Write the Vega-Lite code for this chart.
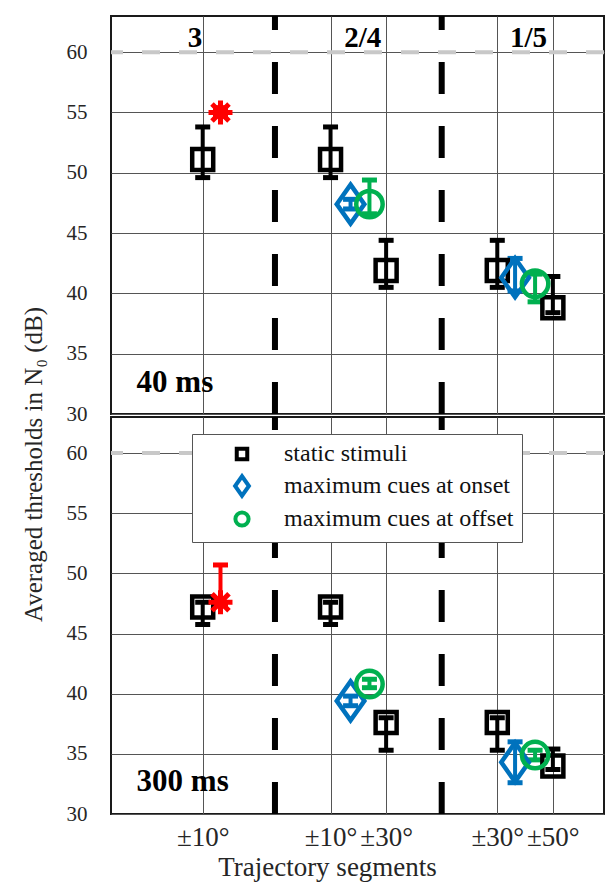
{
  "$schema": "https://vega.github.io/schema/vega-lite/v6.json",
  "background": "white",
  "padding": {"left": 20, "top": 12, "right": 4, "bottom": 2},
  "spacing": 3,
  "bounds": "flush",
  "datasets": {
    "points": [
      {"panel": "40 ms", "series": "static stimuli", "x": 2, "y": 51.1, "lo": 49.6, "hi": 53.8},
      {"panel": "40 ms", "series": "binaural", "x": 2.32, "y": 55.0, "lo": 54.7, "hi": 55.4},
      {"panel": "40 ms", "series": "static stimuli", "x": 4.3, "y": 51.1, "lo": 49.6, "hi": 53.8},
      {"panel": "40 ms", "series": "maximum cues at onset", "x": 4.66, "y": 47.4, "lo": 47.0, "hi": 47.8},
      {"panel": "40 ms", "series": "maximum cues at offset", "x": 5.0, "y": 47.4, "lo": 46.6, "hi": 49.4},
      {"panel": "40 ms", "series": "static stimuli", "x": 5.3, "y": 41.9, "lo": 40.5, "hi": 44.4},
      {"panel": "40 ms", "series": "static stimuli", "x": 7.3, "y": 41.9, "lo": 40.5, "hi": 44.4},
      {"panel": "40 ms", "series": "maximum cues at onset", "x": 7.62, "y": 41.3, "lo": 40.2, "hi": 42.9},
      {"panel": "40 ms", "series": "maximum cues at offset", "x": 7.98, "y": 40.8, "lo": 39.3, "hi": 41.6},
      {"panel": "40 ms", "series": "static stimuli", "x": 8.3, "y": 38.8, "lo": 38.4, "hi": 41.4},
      {"panel": "300 ms", "series": "static stimuli", "x": 2, "y": 47.2, "lo": 45.75, "hi": 47.6},
      {"panel": "300 ms", "series": "binaural", "x": 2.32, "y": 47.6, "lo": 47.3, "hi": 50.7},
      {"panel": "300 ms", "series": "static stimuli", "x": 4.3, "y": 47.2, "lo": 45.75, "hi": 47.6},
      {"panel": "300 ms", "series": "maximum cues at onset", "x": 4.66, "y": 39.4, "lo": 39.0, "hi": 39.8},
      {"panel": "300 ms", "series": "maximum cues at offset", "x": 5.0, "y": 40.8, "lo": 40.5, "hi": 41.2},
      {"panel": "300 ms", "series": "static stimuli", "x": 5.3, "y": 37.6, "lo": 35.3, "hi": 38.0},
      {"panel": "300 ms", "series": "static stimuli", "x": 7.3, "y": 37.6, "lo": 35.3, "hi": 38.0},
      {"panel": "300 ms", "series": "maximum cues at onset", "x": 7.62, "y": 34.3, "lo": 32.6, "hi": 36.0},
      {"panel": "300 ms", "series": "maximum cues at offset", "x": 7.98, "y": 34.9, "lo": 34.5, "hi": 35.3},
      {"panel": "300 ms", "series": "static stimuli", "x": 8.3, "y": 34.0, "lo": 33.7, "hi": 35.4}
    ],
    "labels": [
      {"panel": "40 ms", "kind": "segment", "x": 1.86, "y": 61.2, "text": "3"},
      {"panel": "40 ms", "kind": "segment", "x": 4.88, "y": 61.2, "text": "2/4"},
      {"panel": "40 ms", "kind": "segment", "x": 7.86, "y": 61.2, "text": "1/5"},
      {"panel": "40 ms", "kind": "duration", "x": 0.81, "y": 32.6, "text": "40 ms"},
      {"panel": "300 ms", "kind": "duration", "x": 0.81, "y": 32.7, "text": "300 ms"}
    ],
    "dividers": [{"x": 3.3}, {"x": 6.3}],
    "reference": [{"level": 60}]
  },
  "config": {
    "font": "Liberation Serif",
    "style": {
      "guide-label": {"font": "Liberation Serif"},
      "guide-title": {"font": "Liberation Serif"}
    },
    "view": {"stroke": "#1a1a1a", "strokeWidth": 2},
    "axis": {
      "labelFont": "Liberation Serif", "titleFont": "Liberation Serif",
      "labelColor": "#262626", "titleColor": "#262626", "titleFontWeight": "normal",
      "gridColor": "#555555", "gridWidth": 1, "gridOpacity": 1,
      "domain": false, "ticks": false, "tickSize": 0
    },
    "legend": {
      "orient": "none", "legendX": 81, "legendY": 418,
      "fillColor": "white", "strokeColor": "#555555", "strokeWidth": 1,
      "padding": 8, "symbolOffset": 30, "labelOffset": 30,
      "labelFont": "Liberation Serif", "labelFontSize": 24, "labelColor": "#111111", "labelLimit": 400,
      "symbolStrokeWidth": 4, "rowPadding": 0, "title": null
    }
  },
  "vconcat": [
    {
      "width": 493, "height": 398,
      "data": {"name": "points"},
      "transform": [{"filter": "datum.panel == '40 ms'"}],
      "layer": [
        {
          "data": {"name": "reference"},
          "mark": {"type": "rule", "color": "#c8c8c8", "strokeWidth": 4, "strokeDash": [18, 19]},
          "encoding": {"y": {"field": "level", "type": "quantitative"}}
        },
        {
          "data": {"name": "dividers"},
          "mark": {"type": "rule", "color": "black", "strokeWidth": 6, "strokeDash": [32, 32]},
          "encoding": {
            "x": {"field": "x", "type": "quantitative"},
            "y": {"datum": 30, "type": "quantitative"},
            "y2": {"datum": 63}
          }
        },
        {
          "mark": {"type": "rule", "strokeWidth": 4},
          "encoding": {
            "x": {"field": "x", "type": "quantitative"},
            "y": {"field": "lo", "type": "quantitative"},
            "y2": {"field": "hi"},
            "stroke": {"field": "series", "type": "nominal", "legend": null,
              "scale": {"domain": ["static stimuli", "maximum cues at onset", "maximum cues at offset", "binaural"], "range": ["#000000", "#0072BD", "#00B050", "#FF0000"]}}
          }
        },
        {
          "mark": {"type": "tick", "orient": "horizontal", "size": 15, "thickness": 5, "opacity": 1},
          "encoding": {
            "x": {"field": "x", "type": "quantitative"},
            "y": {"field": "lo", "type": "quantitative"},
            "fill": {"field": "series", "type": "nominal", "legend": null,
              "scale": {"domain": ["static stimuli", "maximum cues at onset", "maximum cues at offset", "binaural"], "range": ["#000000", "#0072BD", "#00B050", "#FF0000"]}}
          }
        },
        {
          "mark": {"type": "tick", "orient": "horizontal", "size": 15, "thickness": 5, "opacity": 1},
          "encoding": {
            "x": {"field": "x", "type": "quantitative"},
            "y": {"field": "hi", "type": "quantitative"},
            "fill": {"field": "series", "type": "nominal", "legend": null}
          }
        },
        {
          "transform": [{"filter": "datum.series == 'static stimuli'"}],
          "mark": {"type": "point", "filled": false, "strokeWidth": 4.5, "size": 400, "opacity": 1, "color": "#000000", "shape": "M-1.05,-1.05L1.05,-1.05L1.05,1.05L-1.05,1.05Z"},
          "encoding": {
            "x": {"field": "x", "type": "quantitative",
              "scale": {"domain": [0.35, 9.22], "nice": false, "zero": false},
              "axis": {"values": [2, 4.3, 5.3, 7.3, 8.3], "grid": true, "labels": false, "title": null}},
            "y": {"field": "y", "type": "quantitative",
              "scale": {"domain": [30, 63], "nice": false, "zero": false},
              "axis": {"values": [30, 35, 40, 45, 50, 55, 60], "grid": true, "labelFont": "Liberation Serif", "labelFontSize": 21, "labelPadding": 24,
                "title": "Averaged thresholds in N₀ (dB)", "titleFont": "Liberation Serif", "titleFontSize": 25, "titleX": -78, "titleY": 448, "titleBaseline": "middle", "titleAlign": "center"}}
          }
        },
        {
          "transform": [{"filter": "datum.series == 'maximum cues at onset'"}],
          "mark": {"type": "point", "filled": false, "strokeWidth": 4.5, "size": 400, "opacity": 1, "color": "#0072BD", "shape": "M0,-1.95L1.38,0L0,1.95L-1.38,0Z"},
          "encoding": {"x": {"field": "x", "type": "quantitative"}, "y": {"field": "y", "type": "quantitative"}}
        },
        {
          "transform": [{"filter": "datum.series == 'maximum cues at offset'"}],
          "mark": {"type": "point", "filled": false, "strokeWidth": 4.5, "size": 400, "opacity": 1, "color": "#00B050", "shape": "M-1.32,0A1.32,1.32 0 1,0 1.32,0A1.32,1.32 0 1,0 -1.32,0Z"},
          "encoding": {"x": {"field": "x", "type": "quantitative"}, "y": {"field": "y", "type": "quantitative"}}
        },
        {
          "transform": [{"filter": "datum.series == 'binaural'"}],
          "mark": {"type": "point", "filled": false, "strokeWidth": 5, "size": 400, "opacity": 1, "color": "#FF0000", "shape": "M0,-1.2L0,1.2M-1.2,0L1.2,0M-0.85,-0.85L0.85,0.85M-0.85,0.85L0.85,-0.85"},
          "encoding": {"x": {"field": "x", "type": "quantitative"}, "y": {"field": "y", "type": "quantitative"}}
        },
        {
          "data": {"name": "labels"},
          "transform": [{"filter": "datum.panel == '40 ms' && datum.kind == 'segment'"}],
          "mark": {"type": "text", "font": "Liberation Serif", "fontWeight": "bold", "fontSize": 29, "baseline": "middle", "align": "center", "color": "black"},
          "encoding": {
            "x": {"field": "x", "type": "quantitative"},
            "y": {"field": "y", "type": "quantitative"},
            "text": {"field": "text"}
          }
        },
        {
          "data": {"name": "labels"},
          "transform": [{"filter": "datum.panel == '40 ms' && datum.kind == 'duration'"}],
          "mark": {"type": "text", "font": "Liberation Serif", "fontWeight": "bold", "fontSize": 31, "baseline": "middle", "align": "left", "color": "black"},
          "encoding": {
            "x": {"field": "x", "type": "quantitative"},
            "y": {"field": "y", "type": "quantitative"},
            "text": {"field": "text"}
          }
        }
      ]
    },
    {
      "width": 493, "height": 397,
      "data": {"name": "points"},
      "transform": [{"filter": "datum.panel == '300 ms'"}],
      "layer": [
        {
          "data": {"name": "reference"},
          "mark": {"type": "rule", "color": "#c8c8c8", "strokeWidth": 4, "strokeDash": [18, 19]},
          "encoding": {"y": {"field": "level", "type": "quantitative"}}
        },
        {
          "data": {"name": "dividers"},
          "mark": {"type": "rule", "color": "black", "strokeWidth": 6, "strokeDash": [32, 32]},
          "encoding": {
            "x": {"field": "x", "type": "quantitative"},
            "y": {"datum": 30, "type": "quantitative"},
            "y2": {"datum": 63}
          }
        },
        {
          "mark": {"type": "rule", "strokeWidth": 4},
          "encoding": {
            "x": {"field": "x", "type": "quantitative"},
            "y": {"field": "lo", "type": "quantitative"},
            "y2": {"field": "hi"},
            "stroke": {"field": "series", "type": "nominal", "legend": null,
              "scale": {"domain": ["static stimuli", "maximum cues at onset", "maximum cues at offset", "binaural"], "range": ["#000000", "#0072BD", "#00B050", "#FF0000"]}}
          }
        },
        {
          "mark": {"type": "tick", "orient": "horizontal", "size": 15, "thickness": 5, "opacity": 1},
          "encoding": {
            "x": {"field": "x", "type": "quantitative"},
            "y": {"field": "lo", "type": "quantitative"},
            "fill": {"field": "series", "type": "nominal", "legend": null,
              "scale": {"domain": ["static stimuli", "maximum cues at onset", "maximum cues at offset", "binaural"], "range": ["#000000", "#0072BD", "#00B050", "#FF0000"]}}
          }
        },
        {
          "mark": {"type": "tick", "orient": "horizontal", "size": 15, "thickness": 5, "opacity": 1},
          "encoding": {
            "x": {"field": "x", "type": "quantitative"},
            "y": {"field": "hi", "type": "quantitative"},
            "fill": {"field": "series", "type": "nominal", "legend": null}
          }
        },
        {
          "transform": [{"filter": "datum.series == 'static stimuli'"}],
          "mark": {"type": "point", "filled": false, "strokeWidth": 4.5, "size": 400, "opacity": 1, "color": "#000000", "shape": "M-1.05,-1.05L1.05,-1.05L1.05,1.05L-1.05,1.05Z"},
          "encoding": {
            "x": {"field": "x", "type": "quantitative",
              "scale": {"domain": [0.35, 9.22], "nice": false, "zero": false},
              "axis": {"values": [2, 4.3, 5.3, 7.3, 8.3], "grid": true, "labelOverlap": false, "labelFlush": false, "labelBound": false,
                "labelExpr": "datum.value < 3 ? '±10°' : datum.value < 5 ? '±10°' : datum.value < 7 ? '±30°' : datum.value < 8 ? '±30°' : '±50°'",
                "labelFont": "Liberation Serif", "labelFontSize": 27, "labelPadding": 10,
                "title": "Trajectory segments", "titleFont": "Liberation Serif", "titleFontSize": 27,
                "titleX": 216, "titleY": 53, "titleAlign": "center", "titleBaseline": "middle"}},
            "y": {"field": "y", "type": "quantitative",
              "scale": {"domain": [30, 63], "nice": false, "zero": false},
              "axis": {"values": [30, 35, 40, 45, 50, 55, 60], "grid": true, "labelFont": "Liberation Serif", "labelFontSize": 21, "labelPadding": 24, "title": null}}
          }
        },
        {
          "transform": [{"filter": "datum.series == 'maximum cues at onset'"}],
          "mark": {"type": "point", "filled": false, "strokeWidth": 4.5, "size": 400, "opacity": 1, "color": "#0072BD", "shape": "M0,-1.95L1.38,0L0,1.95L-1.38,0Z"},
          "encoding": {"x": {"field": "x", "type": "quantitative"}, "y": {"field": "y", "type": "quantitative"}}
        },
        {
          "transform": [{"filter": "datum.series == 'maximum cues at offset'"}],
          "mark": {"type": "point", "filled": false, "strokeWidth": 4.5, "size": 400, "opacity": 1, "color": "#00B050", "shape": "M-1.32,0A1.32,1.32 0 1,0 1.32,0A1.32,1.32 0 1,0 -1.32,0Z"},
          "encoding": {"x": {"field": "x", "type": "quantitative"}, "y": {"field": "y", "type": "quantitative"}}
        },
        {
          "transform": [{"filter": "datum.series == 'binaural'"}],
          "mark": {"type": "point", "filled": false, "strokeWidth": 5, "size": 400, "opacity": 1, "color": "#FF0000", "shape": "M0,-1.2L0,1.2M-1.2,0L1.2,0M-0.85,-0.85L0.85,0.85M-0.85,0.85L0.85,-0.85"},
          "encoding": {"x": {"field": "x", "type": "quantitative"}, "y": {"field": "y", "type": "quantitative"}}
        },
        {
          "transform": [{"filter": "false"}],
          "mark": {"type": "point", "filled": false, "strokeWidth": 4, "size": 110, "opacity": 1},
          "encoding": {
            "x": {"field": "x", "type": "quantitative"},
            "y": {"field": "y", "type": "quantitative"},
            "color": {"field": "series", "type": "nominal",
              "scale": {"domain": ["static stimuli", "maximum cues at onset", "maximum cues at offset"], "range": ["#000000", "#0072BD", "#00B050"]}},
            "shape": {"field": "series", "type": "nominal",
              "scale": {"domain": ["static stimuli", "maximum cues at onset", "maximum cues at offset"],
                "range": ["M-1.05,-1.05L1.05,-1.05L1.05,1.05L-1.05,1.05Z", "M0,-1.95L1.38,0L0,1.95L-1.38,0Z", "M-1.32,0A1.32,1.32 0 1,0 1.32,0A1.32,1.32 0 1,0 -1.32,0Z"]}}
          }
        },
        {
          "data": {"name": "labels"},
          "transform": [{"filter": "datum.panel == '300 ms' && datum.kind == 'duration'"}],
          "mark": {"type": "text", "font": "Liberation Serif", "fontWeight": "bold", "fontSize": 31, "baseline": "middle", "align": "left", "color": "black"},
          "encoding": {
            "x": {"field": "x", "type": "quantitative"},
            "y": {"field": "y", "type": "quantitative"},
            "text": {"field": "text"}
          }
        }
      ]
    }
  ]
}
